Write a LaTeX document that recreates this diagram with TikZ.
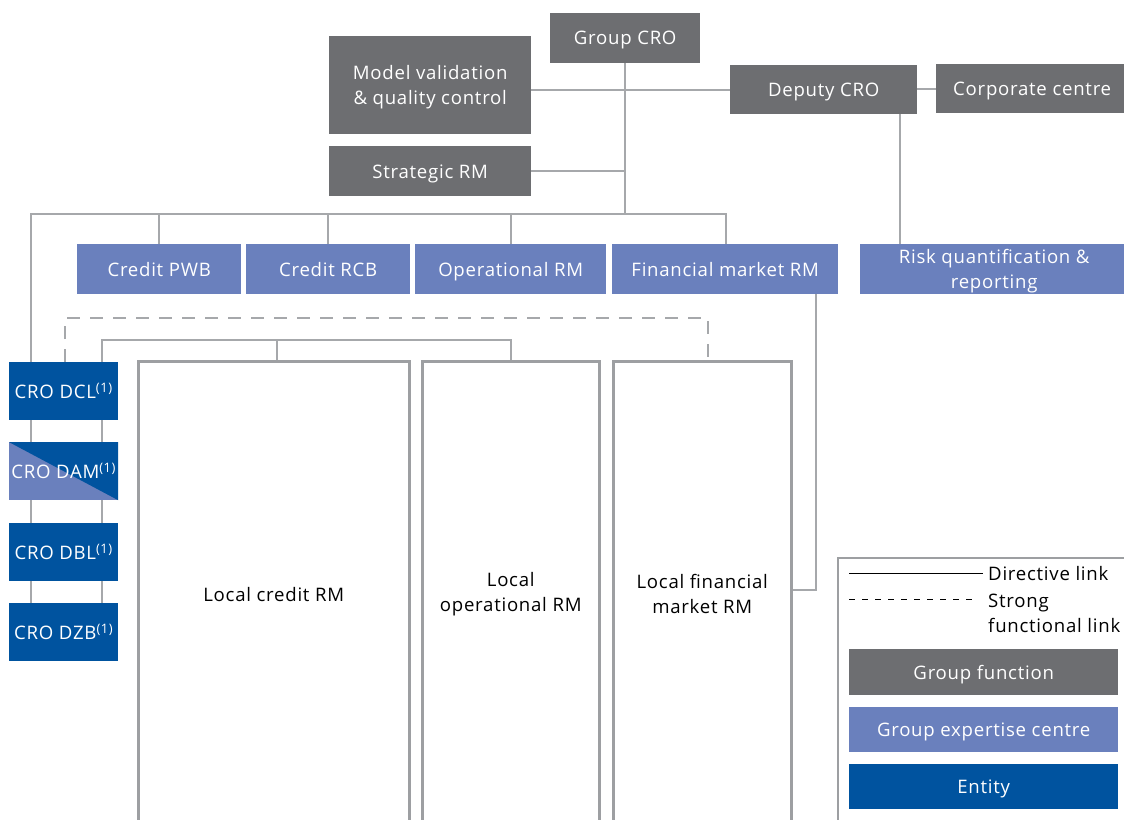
\documentclass[tikz,border=0pt]{standalone}
\usepackage{fontspec}
\setmainfont{Open Sans}[LetterSpace=4]
\definecolor{gfun}{HTML}{6D6E71}
\definecolor{gexp}{HTML}{6A80BD}
\definecolor{ent}{HTML}{00539F}
\definecolor{lnc}{HTML}{A6A8AB}
\definecolor{bxc}{HTML}{9D9FA2}
\begin{document}
\begin{tikzpicture}[x=1pt,y=-1pt,
  txt/.style={font=\fontsize{18.6}{25}\selectfont},
  box/.style={txt,anchor=north west,inner sep=0pt,align=center,text=white,text depth=0pt},
  gf/.style={box,fill=gfun},
  ge/.style={box,fill=gexp},
  en/.style={box,fill=ent},
  tall/.style={txt,anchor=north west,inner sep=0pt,align=center,draw=bxc,line width=2.5pt,fill=white,text=black},
  ln/.style={draw=lnc,line width=2pt},
  dln/.style={draw=lnc,line width=2.5pt,dash pattern=on 13pt off 10pt}]
\clip (0,0) rectangle (1124,819);
\fill[white] (0,0) rectangle (1124,819);

% group functions
\node[gf,minimum width=150pt,minimum height=50pt] (gcro) at (550,13) {Group CRO};
\node[gf,minimum width=202pt,minimum height=98pt] (mvqc) at (329,36) {Model validation\\\& quality control};
\node[gf,minimum width=202pt,minimum height=50pt] (srm) at (329,146) {Strategic RM};
\node[gf,minimum width=187pt,minimum height=49pt] (dcro) at (730,65) {Deputy CRO};
\node[gf,minimum width=192pt,minimum height=49pt] (cc) at (936,64) {Corporate centre};

% expertise centres
\node[ge,minimum width=164pt,minimum height=50pt] (cpwb) at (77,244) {Credit PWB};
\node[ge,minimum width=164pt,minimum height=50pt] (crcb) at (246,244) {Credit RCB};
\node[ge,minimum width=191pt,minimum height=50pt] (oprm) at (415,244) {Operational RM};
\node[ge,minimum width=226pt,minimum height=50pt] (fmrm) at (612,244) {Financial market RM};
\node[ge,minimum width=268pt,minimum height=50pt] (rq) at (860,244) {Risk quantification \&\\reporting};

% entities
\node[en,minimum width=109pt,minimum height=58pt] (dcl) at (9,362) {CRO DCL\textsuperscript{(1)}};
\node[en,minimum width=109pt,minimum height=58pt,fill=gexp,
  path picture={\fill[ent] (path picture bounding box.north west) -- (path picture bounding box.north east) -- (path picture bounding box.south east) -- cycle;}] (dam) at (9,442) {CRO DAM\textsuperscript{(1)}};
\node[en,minimum width=109pt,minimum height=58pt] (dbl) at (9,523) {CRO DBL\textsuperscript{(1)}};
\node[en,minimum width=109pt,minimum height=58pt] (dzb) at (9,603) {CRO DZB\textsuperscript{(1)}};

% local boxes
\node[tall,minimum width=271pt,minimum height=466pt] (lcr) at (137,360) {Local credit RM};
\node[tall,minimum width=177pt,minimum height=466pt] (lop) at (421,360) {Local\\operational RM};
\node[tall,minimum width=178pt,minimum height=466pt] (lfin) at (612,360) {Local financial\\market RM};

% connectors (top)
\coordinate (busL) at (31,214);
\coordinate (busR) at (726,214);
\draw[ln] (gcro.south) -- (gcro.south |- busL);
\draw[ln] (mvqc.east |- 0,90) -- (dcro.west |- 0,90);
\draw[ln] (srm.east) -- (srm.east -| gcro.south);
\draw[ln] (dcro.east |- 0,89) -- (cc.west |- 0,89);
\draw[ln] (dcl.north -| busL) -- (busL) -- (busR) -- (fmrm.north -| busR);
\draw[ln] (cpwb.north) -- (cpwb.north |- busL);
\draw[ln] (crcb.north) -- (crcb.north |- busL);
\draw[ln] (oprm.north) -- (oprm.north |- busL);
\draw[ln] (dcro.south -| 900,0) -- (rq.north -| 900,0);
\coordinate (fmj) at (816,590);
\draw[ln] (fmrm.south -| fmj) -- (fmj) -- (lfin.east |- fmj);

% entity chain
\foreach \a/\b in {dcl/dam,dam/dbl,dbl/dzb}{
  \draw[ln] (\a.south -| 31,0) -- (\b.north -| 31,0);
  \draw[ln] (\a.south -| 102,0) -- (\b.north -| 102,0);
}

% links to local boxes
\coordinate (sl) at (102,340);
\coordinate (sr) at (511,340);
\draw[ln] (dcl.north -| sl) -- (sl) -- (sr) -- (lop.north -| sr);
\draw[ln] (lcr.north -| 277,0) -- (277,340);
\coordinate (dl) at (65,318);
\coordinate (dr) at (708,318);
\draw[dln] (dcl.north -| dl) -- (dl) -- (dr) -- (lfin.north -| dr);

% legend
\node[draw=bxc,line width=2pt,anchor=north west,minimum width=300pt,minimum height=300pt,inner sep=0pt] (leg) at (837,557) {};
\coordinate (l1a) at (849,573);
\coordinate (l1b) at (983,573);
\coordinate (l2a) at (849,599);
\coordinate (l2b) at (976,599);
\draw[black,line width=0.9pt] (l1a) -- (l1b);
\draw[black,line width=0.9pt,dash pattern=on 6pt off 7pt] (l2a) -- (l2b);
\node[txt,anchor=west,inner sep=0pt] (tdir) at (988,574) {Directive link};
\node[txt,anchor=west,inner sep=0pt,align=left] (tstr) at (988,613) {Strong\\functional link};
\node[gf,minimum width=269pt,minimum height=46pt] (lg1) at (849,649) {Group function};
\node[ge,minimum width=269pt,minimum height=45pt] (lg2) at (849,707) {Group expertise centre};
\node[en,minimum width=269pt,minimum height=45pt] (lg3) at (849,764) {Entity};
\end{tikzpicture}
\end{document}
